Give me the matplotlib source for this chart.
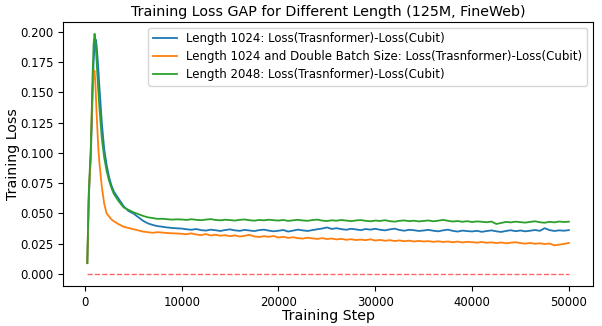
import numpy as np
import matplotlib
matplotlib.use("Agg")
import matplotlib.pyplot as plt

early_steps = [250, 400, 500, 600, 700, 800, 900, 1000, 1100, 1200, 1300, 1400, 1500,
               1750, 2000, 2250, 2500, 2750, 3000, 3500, 4000, 4500, 5000, 5500, 6000,
               6500, 7000, 7500, 8000, 8500, 9000, 9500]
late_steps = list(range(10000, 50001, 500))
steps = early_steps + late_steps

blue_early = [0.0089, 0.060, 0.080, 0.095, 0.120, 0.150, 0.175, 0.188, 0.194, 0.190,
              0.180, 0.168, 0.155, 0.125, 0.103, 0.090, 0.080, 0.073, 0.068, 0.062,
              0.056, 0.052, 0.050, 0.047, 0.0440, 0.0418, 0.0405, 0.0395, 0.0390, 0.0384,
              0.0380, 0.0377]
blue_late = [0.0375, 0.0369, 0.0365, 0.0371, 0.0362, 0.0358, 0.0366, 0.0361, 0.0355, 0.0363,
             0.0368, 0.0360, 0.0356, 0.0364, 0.0359, 0.0354, 0.0362, 0.0366, 0.0358, 0.0352,
             0.0357, 0.0363, 0.0350, 0.0358, 0.0366, 0.0360, 0.0355, 0.0362, 0.0369, 0.0375,
             0.0384, 0.0372, 0.0378, 0.0370, 0.0365, 0.0373, 0.0368, 0.0362, 0.0371, 0.0366,
             0.0373, 0.0365, 0.0360, 0.0368, 0.0374, 0.0363, 0.0357, 0.0365, 0.0361, 0.0355,
             0.0359, 0.0364, 0.0357, 0.0352, 0.0360, 0.0366, 0.0356, 0.0350, 0.0358, 0.0354,
             0.0351, 0.0356, 0.0348, 0.0354, 0.0360, 0.0352, 0.0347, 0.0355, 0.0361, 0.0353,
             0.0359, 0.0352, 0.0357, 0.0363, 0.0356, 0.0378, 0.0362, 0.0355, 0.0360, 0.0357,
             0.0362]

orange_early = [0.0089, 0.065, 0.080, 0.100, 0.130, 0.155, 0.166, 0.168, 0.155, 0.135,
                0.118, 0.103, 0.092, 0.072, 0.058, 0.050, 0.0475, 0.045, 0.0435, 0.041,
                0.039, 0.038, 0.037, 0.036, 0.035, 0.0345, 0.034, 0.0345, 0.0342, 0.0338,
                0.0336, 0.0334]
orange_late = [0.0332, 0.0328, 0.0335, 0.0326, 0.0321, 0.0329, 0.0318, 0.0324, 0.0316, 0.0320,
               0.0312, 0.0318, 0.0309, 0.0315, 0.0323, 0.0310, 0.0305, 0.0312, 0.0307, 0.0313,
               0.0301, 0.0307, 0.0298, 0.0303, 0.0296, 0.0292, 0.0299, 0.0294, 0.0289, 0.0296,
               0.0288, 0.0293, 0.0285, 0.0290, 0.0282, 0.0287, 0.0280, 0.0284, 0.0279, 0.0286,
               0.0276, 0.0281, 0.0274, 0.0279, 0.0272, 0.0277, 0.0270, 0.0275, 0.0268, 0.0273,
               0.0268, 0.0271, 0.0265, 0.0270, 0.0264, 0.0268, 0.0262, 0.0267, 0.0260, 0.0265,
               0.0263, 0.0258, 0.0264, 0.0257, 0.0261, 0.0255, 0.0260, 0.0253, 0.0258, 0.0262,
               0.0255, 0.0250, 0.0256, 0.0249, 0.0253, 0.0247, 0.0251, 0.0236, 0.0242, 0.0248,
               0.0256]

green_early = [0.0089, 0.066, 0.085, 0.100, 0.130, 0.165, 0.190, 0.1985, 0.192, 0.178,
               0.163, 0.150, 0.138, 0.112, 0.096, 0.085, 0.077, 0.071, 0.066, 0.060,
               0.055, 0.053, 0.051, 0.0495, 0.048, 0.0468, 0.0462, 0.0455, 0.0456, 0.0452,
               0.0449, 0.0451]
green_late = [0.0450, 0.0446, 0.0452, 0.0447, 0.0444, 0.0449, 0.0453, 0.0446, 0.0443, 0.0448,
              0.0445, 0.0441, 0.0447, 0.0450, 0.0444, 0.0440, 0.0446, 0.0443, 0.0448, 0.0444,
              0.0441, 0.0446, 0.0438, 0.0443, 0.0447, 0.0442, 0.0439, 0.0445, 0.0449, 0.0441,
              0.0437, 0.0443, 0.0440, 0.0446, 0.0441, 0.0436, 0.0442, 0.0445, 0.0439, 0.0435,
              0.0441, 0.0438, 0.0444, 0.0436, 0.0432, 0.0439, 0.0442, 0.0436, 0.0440, 0.0434,
              0.0438, 0.0442, 0.0435, 0.0440, 0.0447, 0.0439, 0.0433, 0.0437, 0.0431, 0.0436,
              0.0429, 0.0434, 0.0431, 0.0427, 0.0433, 0.0413, 0.0421, 0.0430, 0.0426, 0.0432,
              0.0428, 0.0424, 0.0430, 0.0435, 0.0427, 0.0423, 0.0431, 0.0426, 0.0433, 0.0429,
              0.0432]

labels = ["Length 1024: Loss(Trasnformer)-Loss(Cubit)",
          "Length 1024 and Double Batch Size: Loss(Trasnformer)-Loss(Cubit)",
          "Length 2048: Loss(Trasnformer)-Loss(Cubit)"]

series = [blue_early + blue_late, orange_early + orange_late, green_early + green_late]
colors = ["#1f77b4", "#ff7f0e", "#2ca02c"]

fig = plt.figure(figsize=(6.02, 3.26), dpi=100)
ax = fig.add_axes([0.105, 0.123, 0.88, 0.81])

for vals, c, lab in zip(series, colors, labels):
    ax.plot(steps, vals, color=c, lw=1.3, label=lab)

ax.plot(steps, np.zeros(len(steps)), color="red", alpha=0.6, ls="--", lw=1.0)

ax.set_title("Training Loss GAP for Different Length (125M, FineWeb)", fontsize=10.3, pad=4.5)
ax.set_xlabel("Training Step", fontsize=10.2, labelpad=0)
ax.set_ylabel("Training Loss", fontsize=10.2, labelpad=0)
ax.tick_params(labelsize=8.4)
ax.legend(loc="upper right", fontsize=8.5, labelspacing=0.4)

fig.savefig("out.png", dpi=100)
